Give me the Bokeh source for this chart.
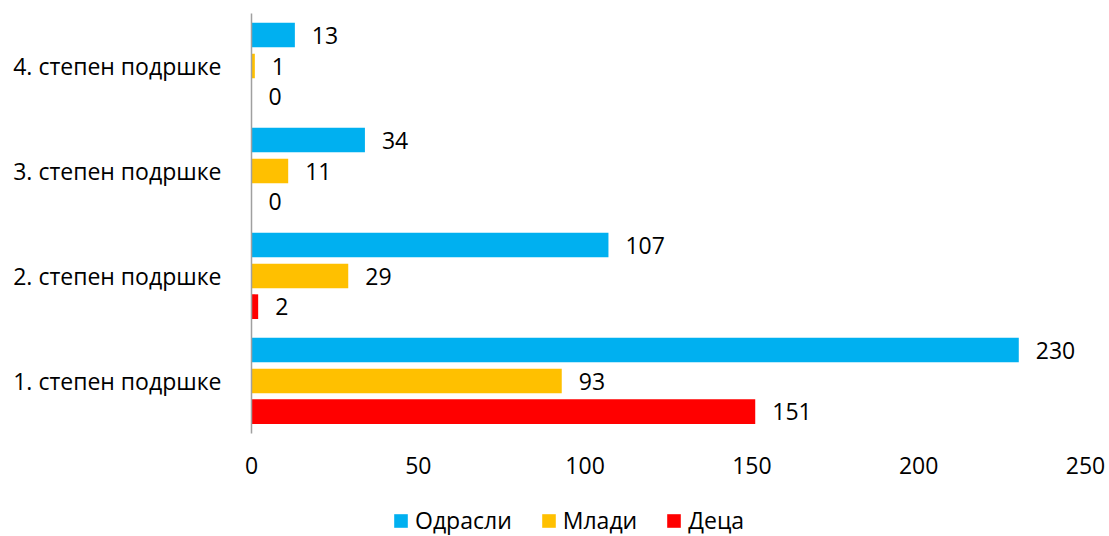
from bokeh.plotting import figure
from bokeh.models import ColumnDataSource, Range1d, LabelSet, Legend, LegendItem
from bokeh.core.properties import value
from bokeh.transform import dodge
from bokeh.embed import file_html
from bokeh.resources import INLINE

categories = ["1. степен подршке", "2. степен подршке", "3. степен подршке", "4. степен подршке"]
series_names = ["Одрасли", "Млади", "Деца"]
odrasli = [230, 107, 34, 13]
mladi = [93, 29, 11, 1]
deca = [151, 2, 0, 0]
x_ticks = [0, 50, 100, 150, 200, 250]

colors = ["#00B0F0", "#FFC000", "#FF0000"]
offsets = [0.295, 0.0, -0.292]
FONT = "Open Sans"
FS = "23px"

pos = list(range(1, len(categories) + 1))
src = ColumnDataSource(dict(pos=pos, a=odrasli, b=mladi, c=deca,
                            la=[str(v) for v in odrasli],
                            lb=[str(v) for v in mladi],
                            lc=[str(v) for v in deca]))

# The frame covers the whole canvas; plot area spans x 0..250 and categories 0.5..4.5
PXX = 834.0 / 250.0
PXY = 105.0
x_rng = Range1d(-251.0 / PXX, 250 + 24.0 / PXX)
y_rng = Range1d(0.5 - 103.0 / PXY, 4.5 + 13.0 / PXY)
p = figure(width=1109, height=536, x_range=x_rng, y_range=y_rng,
           output_backend="svg", toolbar_location=None,
           min_border_left=0, min_border_right=0, min_border_top=0, min_border_bottom=0)
p.outline_line_color = None
p.grid.visible = False
p.background_fill_color = "white"
p.border_fill_color = "white"

renderers = []
for col, lab, color, off in zip(["a", "b", "c"], ["la", "lb", "lc"], colors, offsets):
    r = p.hbar(y=dodge("pos", off), right=col, left=0, height=0.235,
               color=color, line_color=None, source=src)
    renderers.append(r)
    labels = LabelSet(x=col, y=dodge("pos", off), text=lab, source=src,
                      x_offset=17, text_baseline="middle", text_font=value(FONT),
                      text_font_size=FS, text_color="#000000")
    p.add_layout(labels)

# axes
p.xaxis.ticker = x_ticks
p.xaxis.fixed_location = 0.5
p.xaxis.axis_line_color = None
p.xaxis.major_tick_line_color = None
p.xaxis.minor_tick_line_color = None
p.xaxis.major_tick_out = 0
p.xaxis.major_label_text_font = FONT
p.xaxis.major_label_text_font_size = FS
p.xaxis.major_label_text_color = "#000000"
p.xaxis.major_label_standoff = 23

p.yaxis.ticker = pos
p.yaxis.fixed_location = 0
p.yaxis.bounds = (0.5, 4.5)
p.yaxis.major_label_overrides = {k: c for k, c in zip(pos, categories)}
p.yaxis.axis_line_color = "#A0A0A0"
p.yaxis.axis_line_width = 1.5
p.yaxis.major_tick_line_color = None
p.yaxis.minor_tick_line_color = None
p.yaxis.major_tick_out = 0
p.yaxis.major_label_text_font = FONT
p.yaxis.major_label_text_font_size = FS
p.yaxis.major_label_text_color = "#000000"
p.yaxis.major_label_standoff = 30

legend = Legend(items=[LegendItem(label=n, renderers=[r]) for n, r in zip(series_names, renderers)],
                orientation="horizontal", location=(392, 0),
                label_text_font=FONT, label_text_font_size=FS, label_text_color="#000000",
                glyph_width=17, glyph_height=17, label_height=20, label_standoff=6,
                spacing=28, padding=0, margin=0, border_line_color=None,
                background_fill_alpha=0)
p.add_layout(legend, "center")

open("out.html", "w").write(file_html(p, INLINE))
